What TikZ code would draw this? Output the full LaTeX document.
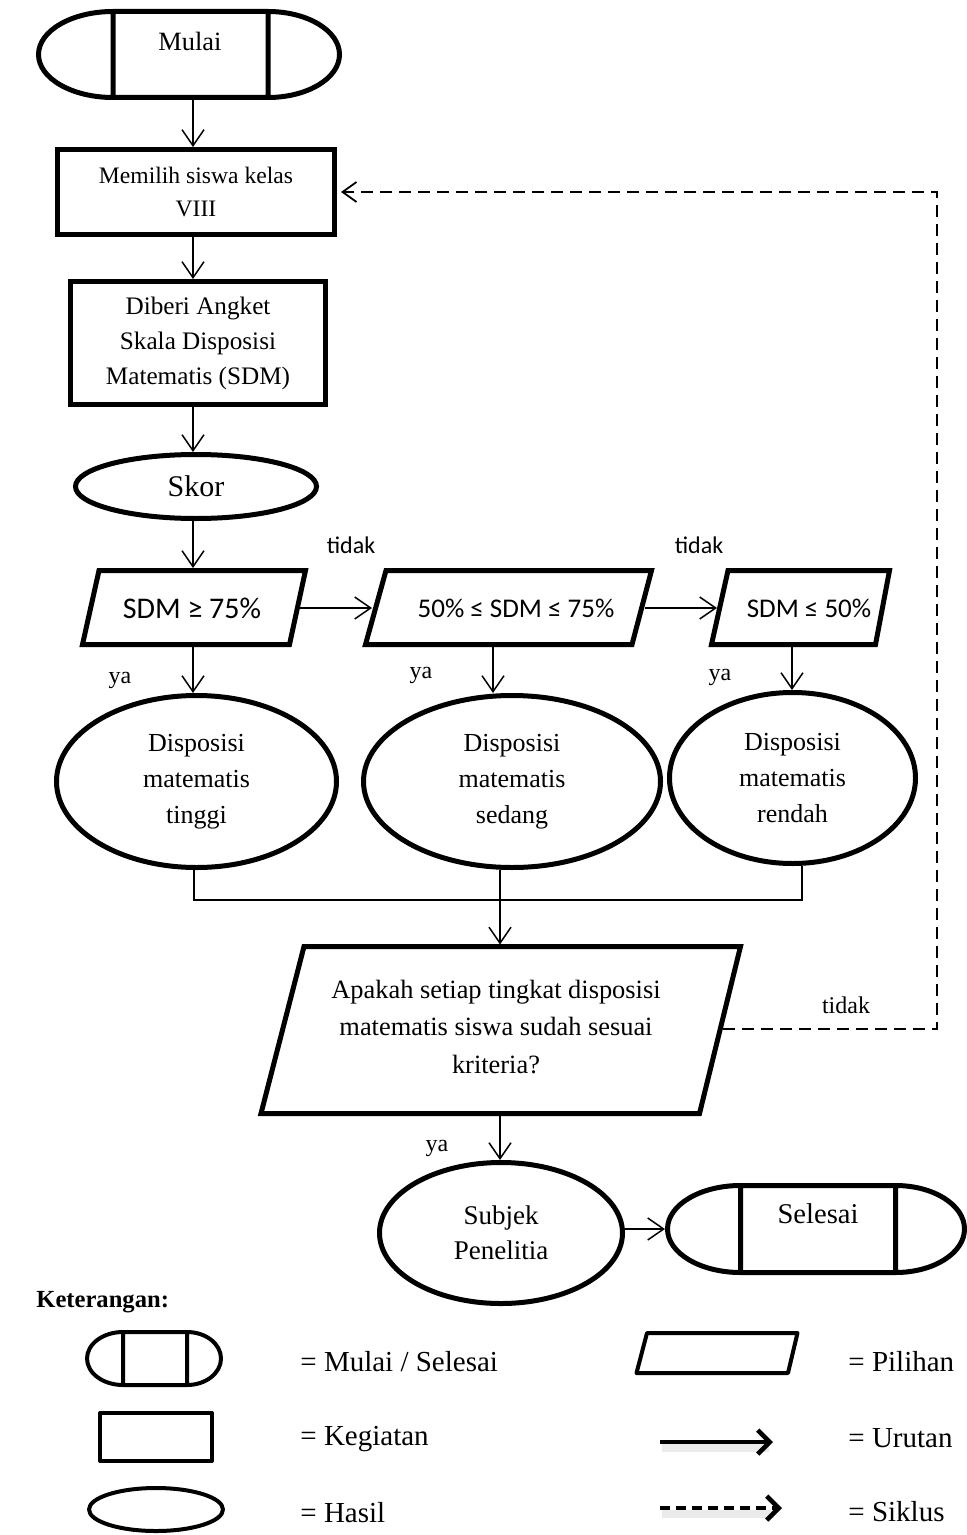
\documentclass[tikz,border=0pt]{standalone}
\usepackage{fontspec}
\setmainfont{Liberation Serif}
\newfontfamily\calibrifont{Carlito}
\usetikzlibrary{arrows.meta,shapes.geometric}

% terminal symbol: style, x1, y1, x2, y2, left divider, right divider
\newcommand\terminalshape[7]{%
  \draw[#1] (#6,#3) -- (#7,#3)
    arc[start angle=-90,end angle=90,x radius={#4-#7},y radius={(#5-#3)/2}]
    -- (#6,#5)
    arc[start angle=90,end angle=270,x radius={#6-#2},y radius={(#5-#3)/2}]
    -- cycle
    (#6,#3) -- (#6,#5) (#7,#3) -- (#7,#5);%
}

\begin{document}
\begin{tikzpicture}[x=0.5pt,y=-0.5pt,
  shapeline/.style={line width=2.5pt,line join=miter},
  legendline/.style={line width=2pt,line join=round},
  thinline/.style={line width=0.75pt},
  flow/.style={thinline,-{Straight Barb[length=8pt,width=11pt]}},
  loopflow/.style={line width=0.9pt,dash pattern=on 6pt off 3.5pt,
    -{Straight Barb[length=7pt,width=10pt]},shorten >=2pt},
  procbox/.style={shapeline,draw,rectangle,inner sep=0pt,align=center},
  resultshape/.style={shapeline,draw,ellipse,inner sep=0pt,align=center},
  hidden/.style={inner sep=0pt,outer sep=0pt},
  condtext/.style={font=\calibrifont\fontsize{13.5}{16}\selectfont},
  sanslabel/.style={font=\calibrifont\fontsize{12}{14}\selectfont},
  seriflabel/.style={font=\fontsize{12}{14}\selectfont},
  circletext/.style={font=\fontsize{13}{18}\selectfont},
  legendtext/.style={anchor=west,inner sep=0pt,font=\fontsize{14.5}{17}\selectfont},
  shadowline/.style={line width=4pt,black!8},
  legendarrow/.style={line width=2.3pt,-{Straight Barb[length=6pt,width=12pt]}},
]
\useasboundingbox (0,0) rectangle (967,1535);

% ---------- start ----------
\terminalshape{shapeline}{38.5}{11.5}{339.5}{97.5}{113}{268}
\node[hidden,minimum width=153pt,minimum height=45.5pt] (mulai) at (189,54.5) {};
\node[font=\fontsize{13.2}{16}\selectfont] (mulaitext) at (190,41) {Mulai};

\coordinate (spine) at (193,0);

% ---------- activities ----------
\node[procbox,minimum width=138.5pt,minimum height=42.5pt,
      font=\fontsize{11.8}{16.5}\selectfont] (pilih) at (196,192)
      {Memilih siswa kelas\\VIII};
\node[procbox,minimum width=127.5pt,minimum height=61.5pt,
      font=\fontsize{12.6}{17.5}\selectfont] (angket) at (198,343)
      {Diberi Angket\\Skala Disposisi\\Matematis (SDM)};
\node[resultshape,minimum width=120.5pt,minimum height=32pt,
      font=\fontsize{15}{18}\selectfont] (skor) at (196,486.5) {Skor};

\draw[flow] (mulai.south -| spine) -- (pilih.north -| spine);
\draw[flow] (pilih.south -| spine) -- (angket.north -| spine);
\draw[flow] (angket.south -| spine) -- (skor.north -| spine);

% ---------- score categories ----------
\draw[shapeline] (99,570.5) -- (305.5,570.5) -- (289.5,644.5) -- (82.5,644.5) -- cycle;
\draw[shapeline] (386,570.5) -- (651.5,570.5) -- (632,644.5) -- (365.5,644.5) -- cycle;
\draw[shapeline] (728,570.5) -- (889.5,570.5) -- (875.5,644.5) -- (711.5,644.5) -- cycle;
\node[condtext,font=\calibrifont\fontsize{15}{17}\selectfont] (cond1) at (192,608) {SDM ≥ 75\%};
\node[condtext] (cond2) at (516,608) {50\% ≤ SDM ≤ 75\%};
\node[condtext] (cond3) at (809,608) {SDM ≤ 50\%};

\coordinate (cond1t) at (193,568);
\coordinate (cond1r) at (300,608);
\coordinate (cond2l) at (372,608);
\coordinate (cond2r) at (645,608);
\coordinate (cond3l) at (717,608);
\coordinate (cond1b) at (193,646.5);
\coordinate (cond2b) at (493,646.5);
\coordinate (cond3b) at (792,646.5);

\draw[flow] (skor.south -| spine) -- (cond1t);
\draw[flow] (cond1r) -- (cond2l);
\draw[flow] (cond2r) -- (cond3l);

\node[sanslabel] (tidak1) at (351,545) {tidak};
\node[sanslabel] (tidak2) at (699,545) {tidak};

% ---------- results ----------
\node[resultshape,circletext,minimum width=140pt,minimum height=86pt] (tinggi)
      at (196.5,781.5) {Disposisi\\matematis\\tinggi};
\node[resultshape,circletext,minimum width=148.5pt,minimum height=86pt] (sedang)
      at (512,781.5) {Disposisi\\matematis\\sedang};
\node[resultshape,circletext,minimum width=123pt,minimum height=85.5pt] (rendah)
      at (792.5,778) {Disposisi\\matematis\\rendah};
\fill[white] (414,688) rectangle (436,705);

\draw[flow] (cond1b) -- (cond1b |- tinggi.north);
\draw[flow] (cond2b) -- (cond2b |- sedang.north);
\draw[flow] (cond3b) -- (cond3b |- rendah.north);

\node[seriflabel] (ya1) at (120,680) {ya};
\node[seriflabel] (ya2) at (421,675) {ya};
\node[seriflabel] (ya3) at (720,677) {ya};

% ---------- merge ----------
\coordinate (busL) at (194,900);
\coordinate (busR) at (802,900);
\coordinate (dectop) at (500,944.5);
\draw[thinline] (tinggi.south -| busL) -- (busL) -- (busR) -- (rendah.south -| busR);
\draw[flow] (sedang.south -| dectop) -- (dectop);

% ---------- decision ----------
\draw[shapeline] (304,946.5) -- (740.5,946.5) -- (699.5,1113.5) -- (261,1113.5) -- cycle;
\node[align=center,font=\fontsize{13.2}{18.75}\selectfont] (tanya) at (496,1027)
      {Apakah setiap tingkat disposisi\\matematis siswa sudah sesuai\\kriteria?};
\coordinate (decbot) at (500,1116);
\coordinate (decR) at (723,1029);
\coordinate (loopC) at (937,1029);

\draw[loopflow] (decR) -- (loopC) |- (pilih.east);
\node[seriflabel] (tidak3) at (846,1005) {tidak};

% ---------- subject and end ----------
\node[resultshape,minimum width=121.5pt,minimum height=70.5pt,
      font=\fontsize{13.5}{17.5}\selectfont] (subjek) at (501,1233) {Subjek\\Penelitia};
\draw[flow] (decbot) -- (decbot |- subjek.north);
\node[seriflabel] (ya4) at (437,1148) {ya};

\terminalshape{shapeline}{667.5}{1185.5}{964.5}{1272.5}{740.5}{895.5}
\node[hidden,minimum width=151pt,minimum height=46pt] (selesai) at (816,1229) {};
\node[font=\fontsize{14.3}{17}\selectfont] (selesaitext) at (818,1214) {Selesai};
\draw[flow] (subjek.east |- selesai.west) -- (selesai.west);

% ---------- legend ----------
\node[anchor=west,inner sep=0pt,font=\bfseries\fontsize{12.3}{15}\selectfont] (ket)
      at (36,1302) {Keterangan:};

\terminalshape{legendline}{87}{1332}{221}{1385}{123}{187}
\node[draw,legendline,rectangle,inner sep=0pt,minimum width=56pt,minimum height=24pt]
      (lgrect) at (156,1437) {};
\node[draw,legendline,ellipse,inner sep=0pt,minimum width=67pt,minimum height=21.5pt]
      (lgell) at (156,1509.5) {};
\draw[legendline] (647,1333) -- (797.5,1333) -- (788,1373) -- (636.5,1373) -- cycle;

\coordinate (urA) at (660,1442);
\coordinate (urB) at (773,1442);
\coordinate (skA) at (660,1508);
\coordinate (skB) at (782,1508);
\draw[shadowline] ([shift={(2,6)}]urA) -- ([shift={(-4,6)}]urB);
\draw[shadowline] ([shift={(2,6)}]skA) -- ([shift={(-8,6)}]skB);
\draw[legendarrow] (urA) -- (urB);
\draw[legendarrow,dash pattern=on 5pt off 3pt] (skA) -- (skB);

\node[legendtext] (lgmulai) at (300,1362) {= Mulai / Selesai};
\node[legendtext] (lgkeg) at (300,1439) {= Kegiatan};
\node[legendtext] (lghasil) at (300,1513) {= Hasil};
\node[legendtext] (lgpil) at (848,1362) {= Pilihan};
\node[legendtext] (lgurut) at (848,1438) {= Urutan};
\node[legendtext] (lgsik) at (848,1512) {= Siklus};
\end{tikzpicture}
\end{document}
